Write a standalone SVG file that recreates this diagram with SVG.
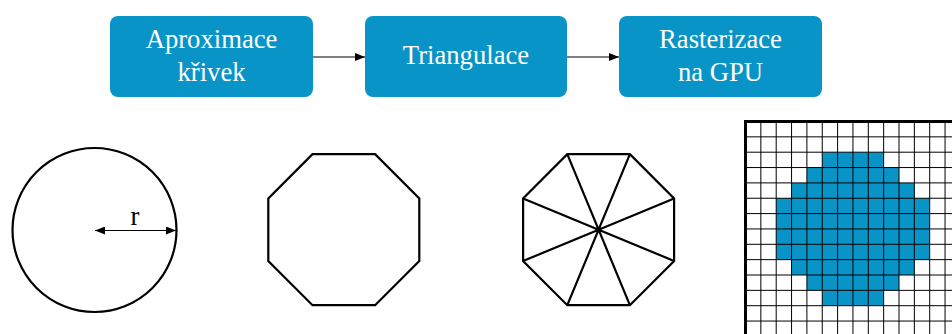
<svg xmlns="http://www.w3.org/2000/svg" width="952" height="334" viewBox="0 0 952 334">
  <style>
    .box { fill: #0994C8; }
    .lbl { font-family: "Liberation Serif", "Tinos", "Times New Roman", "DejaVu Serif", serif; font-size: 26.67px; fill: #ffffff; text-anchor: middle; }
    .conn { stroke: #000; stroke-width: 1.2; fill: none; }
    .shape { stroke: #000; stroke-width: 2.2; fill: none; stroke-linejoin: miter; }
    .grid { stroke: #000; stroke-width: 1; fill: none; }
    .rlbl { font-family: "Liberation Serif", "Tinos", "Times New Roman", "DejaVu Serif", serif; font-size: 26.67px; fill: #000; text-anchor: middle; }
  </style>
  <defs>
    <marker id="arrow" markerUnits="userSpaceOnUse" markerWidth="11" markerHeight="10" refX="10" refY="4" orient="auto">
      <path d="M0,0 L10,4 L0,8 z" fill="#000"/>
    </marker>
    <marker id="arrowStart" markerUnits="userSpaceOnUse" markerWidth="11" markerHeight="10" refX="0" refY="4" orient="auto">
      <path d="M10,0 L0,4 L10,8 z" fill="#000"/>
    </marker>
  </defs>

  <rect width="952" height="334" fill="#ffffff"/>

  <!-- pipeline steps -->
  <g id="aproximace">
    <rect class="box" x="110" y="16" width="203" height="81" rx="8"/>
    <text class="lbl" x="211.5" y="48">Aproximace</text>
    <text class="lbl" x="211.5" y="81">křivek</text>
  </g>
  <g id="triangulace">
    <rect class="box" x="365" y="16" width="202" height="81" rx="8"/>
    <text class="lbl" x="466" y="64">Triangulace</text>
  </g>
  <g id="rasterizace">
    <rect class="box" x="619" y="16" width="203" height="81" rx="8"/>
    <text class="lbl" x="720.5" y="48">Rasterizace</text>
    <text class="lbl" x="720.5" y="81">na GPU</text>
  </g>

  <g id="connectors">
    <line class="conn" x1="313" y1="57" x2="365" y2="57" marker-end="url(#arrow)"/>
    <line class="conn" x1="567" y1="57" x2="619" y2="57" marker-end="url(#arrow)"/>
  </g>

  <!-- curve: circle with radius -->
  <g id="circle">
    <circle class="shape" cx="94.5" cy="230" r="82"/>
    <line class="conn" x1="95" y1="230.5" x2="176" y2="230.5" marker-start="url(#arrowStart)" marker-end="url(#arrow)"/>
    <text class="rlbl" x="135" y="225">r</text>
  </g>

  <!-- polygon approximation -->
  <g id="octagon">
    <polygon class="shape" points="312.5,154.2 375.1,154.2 419.3,198.4 419.3,261 375.1,305.2 312.5,305.2 268.3,261 268.3,198.4"/>
  </g>

  <!-- triangle fan -->
  <g id="fan">
    <polygon class="shape" points="567.3,154.2 629.9,154.2 674.1,198.4 674.1,261 629.9,305.2 567.3,305.2 523.1,261 523.1,198.4"/>
    <path class="shape" d="M598.6,229.7 L567.3,154.2 M598.6,229.7 L629.9,154.2 M598.6,229.7 L674.1,198.4 M598.6,229.7 L674.1,261 M598.6,229.7 L629.9,305.2 M598.6,229.7 L567.3,305.2 M598.6,229.7 L523.1,261 M598.6,229.7 L523.1,198.4"/>
  </g>

  <!-- rasterized pixels -->
  <g id="raster">
    <path fill="#0994C8" d="M822.25,152.2 H883.65 V167.55 H899 V182.9 H914.35 V198.25 H929.7 V259.65 H914.35 V275 H899 V290.35 H883.65 V305.7 H822.25 V290.35 H806.9 V275 H791.55 V259.65 H776.2 V198.25 H791.55 V182.9 H806.9 V167.55 H822.25 Z"/>
    <path class="grid" d="M760.85,121.5 V334 M776.2,121.5 V334 M791.55,121.5 V334 M806.9,121.5 V334 M822.25,121.5 V334 M837.6,121.5 V334 M852.95,121.5 V334 M868.3,121.5 V334 M883.65,121.5 V334 M899,121.5 V334 M914.35,121.5 V334 M929.7,121.5 V334 M945.05,121.5 V334
      M745.5,136.85 H952 M745.5,152.2 H952 M745.5,167.55 H952 M745.5,182.9 H952 M745.5,198.25 H952 M745.5,213.6 H952 M745.5,228.95 H952 M745.5,244.3 H952 M745.5,259.65 H952 M745.5,275 H952 M745.5,290.35 H952 M745.5,305.7 H952 M745.5,321.05 H952"/>
    <path d="M745.5,334 V121.5 H952" fill="none" stroke="#000" stroke-width="3"/>
  </g>
</svg>
